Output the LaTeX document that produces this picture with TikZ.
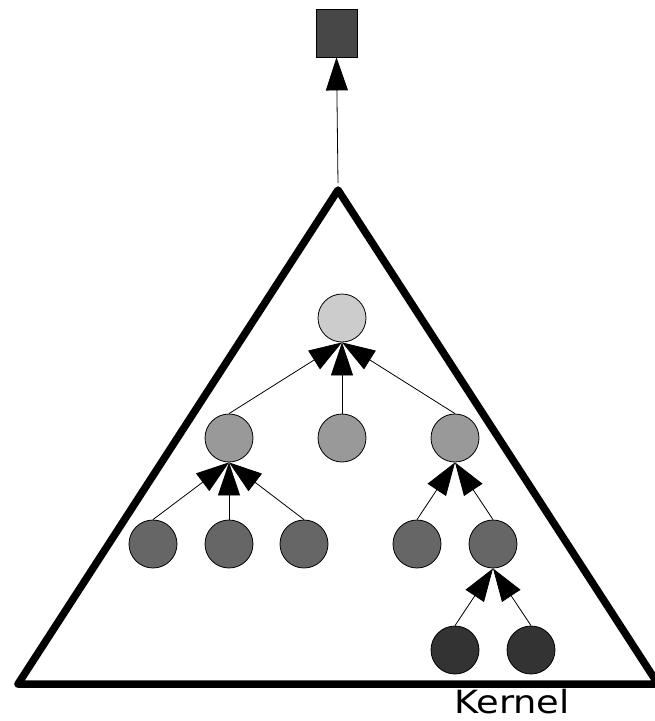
\documentclass[tikz,border=0pt]{standalone}
\usepackage{fontspec}
\setmainfont{DejaVu Sans}
\usetikzlibrary{arrows.meta}

\definecolor{lvlA}{HTML}{CCCCCC}
\definecolor{lvlB}{HTML}{999999}
\definecolor{lvlC}{HTML}{666666}
\definecolor{lvlD}{HTML}{333333}
\definecolor{topbox}{HTML}{474747}

\begin{document}
\begin{tikzpicture}[x=1pt, y=-1pt,
  tnode/.style={circle, draw, line width=0.8pt, minimum size=48pt, inner sep=0pt},
  link/.style={line width=0.8pt, -{Triangle[length=33pt,width=22pt]}}]
  \useasboundingbox (0,0) rectangle (654,721);
  % kernel triangle
  \draw[line width=7.5pt, line join=round] (338,190) -- (658,684) -- (18,684) -- cycle;
  \coordinate (apex) at (338,183);
  \node[anchor=base west, inner sep=0pt, xscale=1.15,
        font=\fontsize{32}{32}\selectfont] (kern) at (454,713) {Kernel};
  % output box
  \node[draw, fill=topbox, line width=0.8pt, minimum width=41pt, minimum height=48pt,
        inner sep=0pt] (out) at (336.5,33) {};
  \draw[link] (apex) -- (out.south);
  % tree nodes
  \node[tnode, fill=lvlA] (root) at (342,318) {};
  \node[tnode, fill=lvlB] (l) at (229,438) {};
  \node[tnode, fill=lvlB] (m) at (342,438) {};
  \node[tnode, fill=lvlB] (r) at (455,438) {};
  \node[tnode, fill=lvlC] (l1) at (153,544) {};
  \node[tnode, fill=lvlC] (l2) at (229,544) {};
  \node[tnode, fill=lvlC] (l3) at (304,544) {};
  \node[tnode, fill=lvlC] (r1) at (417,544) {};
  \node[tnode, fill=lvlC] (r2) at (493,544) {};
  \node[tnode, fill=lvlD] (r21) at (455,650) {};
  \node[tnode, fill=lvlD] (r22) at (531,650) {};
  % edges, child to parent
  \draw[link] (l.north) -- (root.south);
  \draw[link] (m.north) -- (root.south);
  \draw[link] (r.north) -- (root.south);
  \draw[link] (l1.north) -- (l.south);
  \draw[link] (l2.north) -- (l.south);
  \draw[link] (l3.north) -- (l.south);
  \draw[link] (r1.north) -- (r.south);
  \draw[link] (r2.north) -- (r.south);
  \draw[link] (r21.north) -- (r2.south);
  \draw[link] (r22.north) -- (r2.south);
\end{tikzpicture}
\end{document}
